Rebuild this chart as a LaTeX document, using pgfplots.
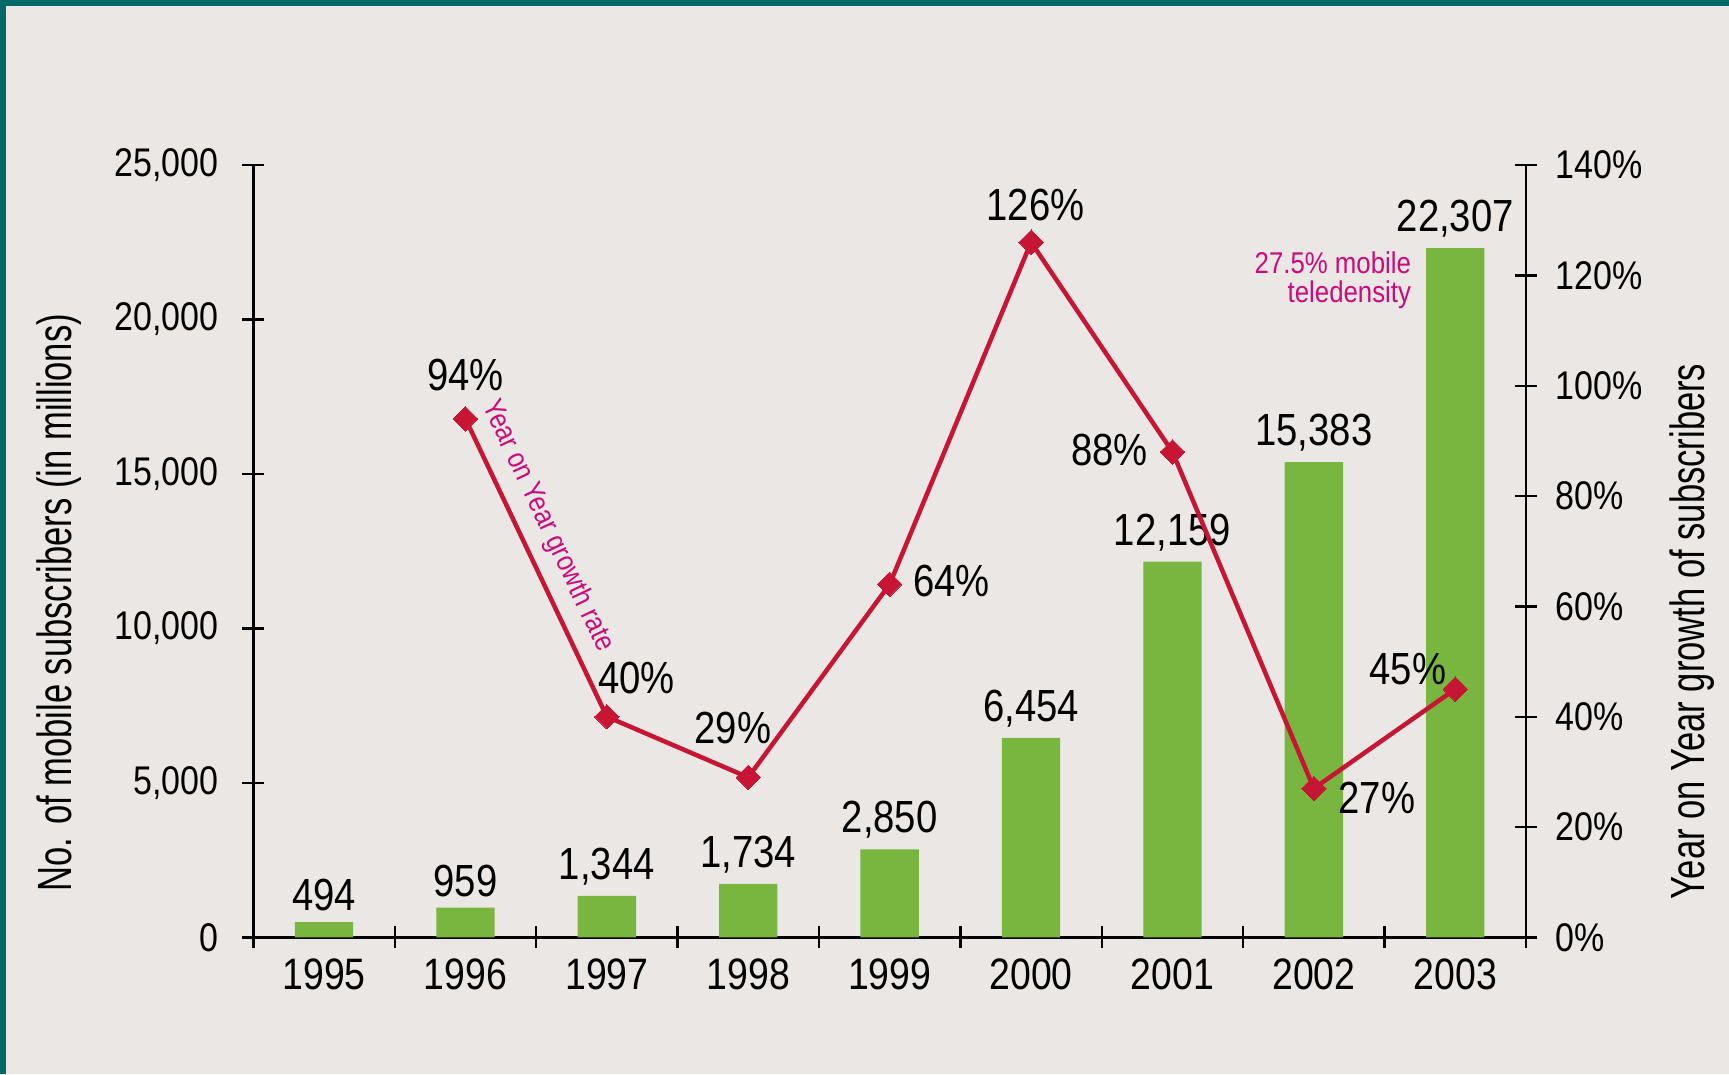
\documentclass[border=0pt]{standalone}
\usepackage{fontspec}
\setmainfont{Liberation Sans}
\newfontfamily\cf[FakeStretch=0.85]{Liberation Sans}
\newfontfamily\tf[FakeStretch=0.72]{Liberation Sans}
\newfontfamily\af[FakeStretch=0.86]{Liberation Sans}
\usepackage{pgfplots}
\pgfplotsset{compat=1.18}
\definecolor{bg}{RGB}{234,231,228}
\definecolor{frame}{RGB}{0,104,102}
\definecolor{bargreen}{RGB}{120,182,64}
\definecolor{linered}{RGB}{198,22,52}
\definecolor{annmag}{RGB}{204,10,122}
\begin{document}
\begin{tikzpicture}
\useasboundingbox (-76.0pt,-41.0pt) rectangle (442.7pt,281.2pt);
\fill[bg] (-76.0pt,-41.0pt) rectangle (442.7pt,281.2pt);
\fill[frame] (-76.0pt,279.4pt) rectangle (442.7pt,281.2pt);
\fill[frame] (-76.0pt,-41.0pt) rectangle (-74.2pt,281.2pt);
\begin{axis}[
  at={(0pt,0pt)}, anchor=south west,
  scale only axis, width=381.8pt, height=231.7pt,
  xmin=-0.5, xmax=8.5, ymin=0, ymax=25000,
  axis y line*=left, axis x line*=bottom,
  x axis line style={line width=1pt, -, shorten <=-3.5pt, shorten >=-3.3pt},
  y axis line style={line width=0.7pt, -},
  xtick={-0.5,0.5,...,8.5}, x tick label as interval,
  xticklabels={1995,1996,1997,1998,1999,2000,2001,2002,2003},
  ytick={0,5000,...,25000},
  tick align=center, major tick length=6.6pt,
  tick style={black, line width=0.7pt},
  /pgf/number format/assume math mode=true,
  /pgf/number format/1000 sep={,},
  scaled y ticks=false,
  yticklabel style={font=\cf\fontsize{12}{12}\selectfont, anchor=east, inner sep=0pt, xshift=-7pt},
  xticklabel style={font=\cf\fontsize{13.2}{13.2}\selectfont, anchor=north, inner sep=0pt, yshift=-3pt},
]
\addplot[ybar, fill=bargreen, draw=none, bar width=17.5pt,
  nodes near coords,
  every node near coord/.append style={font=\cf\fontsize{13.5}{13.5}\selectfont, inner sep=0pt, anchor=south, yshift=3pt, text=black}]
  coordinates {(0,494) (1,959) (2,1344) (3,1734) (4,2850) (5,6454) (6,12159) (7,15383) (8,22307)};
\end{axis}
\begin{axis}[
  at={(0pt,0pt)}, anchor=south west,
  scale only axis, width=381.8pt, height=231.7pt,
  xmin=-0.5, xmax=8.5, ymin=0, ymax=140,
  axis y line*=right, axis x line=none,
  y axis line style={line width=0.7pt, -},
  ytick={0,20,...,140},
  tick align=center, major tick length=6.6pt,
  tick style={black, line width=0.7pt},
  /pgf/number format/assume math mode=true,
  yticklabel={\pgfmathprintnumber{\tick}\%},
  yticklabel style={font=\cf\fontsize{12}{12}\selectfont, anchor=west, inner sep=0pt, xshift=5.4pt},
  clip=false,
]
\addplot[linered, line width=1.35pt, mark=square*, mark size=2.6pt,
  mark options={rotate=45, fill=linered, draw=linered, line width=0pt}]
  coordinates {(1,94) (2,40) (3,29) (4,64) (5,126) (6,88) (7,27) (8,45)};
\begin{scope}[every node/.style={font=\cf\fontsize{13.5}{13.5}\selectfont, inner sep=0pt}]
\node[xshift=0pt, yshift=13.2pt] at (axis cs:1,94) {94\%};
\node[xshift=8.9pt, yshift=11.6pt] at (axis cs:2,40) {40\%};
\node[xshift=-4.6pt, yshift=14.9pt] at (axis cs:3,29) {29\%};
\node[xshift=18.5pt, yshift=1pt] at (axis cs:4,64) {64\%};
\node[xshift=1.3pt, yshift=11.2pt] at (axis cs:5,126) {126\%};
\node[xshift=-18.9pt, yshift=0.7pt] at (axis cs:6,88) {88\%};
\node[xshift=18.9pt, yshift=-3pt] at (axis cs:7,27) {27\%};
\node[xshift=-14.2pt, yshift=6pt] at (axis cs:8,45) {45\%};
\end{scope}
\end{axis}
\node[rotate=90, font=\tf\fontsize{14.4}{14.4}\selectfont] at (-58.3pt,100.4pt) {No. of mobile subscribers (in millions)};
\node[rotate=90, font=\tf\fontsize{14.4}{14.4}\selectfont] at (431.7pt,91.8pt) {Year on Year growth of subscribers};
\node[rotate=-64.7, font=\af\fontsize{8.7}{8.7}\selectfont, text=annmag, inner sep=0pt] at (88.2pt,123.4pt) {Year on Year growth rate};
\node[align=right, anchor=north east, inner sep=0pt, font=\af\fontsize{9}{8.8}\selectfont, text=annmag] at (347.5pt,205.9pt) {27.5\% mobile\\teledensity};
\end{tikzpicture}
\end{document}
